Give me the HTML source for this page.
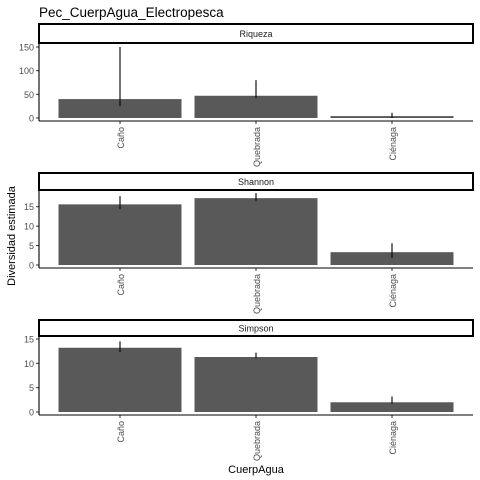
<!DOCTYPE html>
<html><head><meta charset="utf-8"><style>
body{margin:0;background:#fff;}
svg{display:block;font-family:"Liberation Sans",sans-serif;}
</style></head><body>
<svg id="c" width="480" height="480">
<text x="39" y="17" font-size="13.5" fill="#000">Pec_CuerpAgua_Electropesca</text>
<text transform="translate(15,236) rotate(-90)" text-anchor="middle" font-size="11" fill="#000">Diversidad estimada</text>
<text x="256" y="473" text-anchor="middle" font-size="11" fill="#000">CuerpAgua</text>
</svg>
<script>
const categories=["Caño","Quebrada","Ciénaga"];
const panelNames=["Riqueza","Shannon","Simpson"];
const riquezaValues=[40,47,4];
const riquezaLow=[25,42,0];
const riquezaHigh=[150,80,11];
const shannonValues=[15.6,17.2,3.3];
const shannonLow=[14.4,16.5,1.8];
const shannonHigh=[17.7,18.5,5.6];
const simpsonValues=[13.2,11.3,2.0];
const simpsonLow=[12.3,11.0,1.7];
const simpsonHigh=[14.5,12.2,3.2];
const riquezaTicks=[0,50,100,150];
const shannonTicks=[0,5,10,15];
const simpsonTicks=[0,5,10,15];
const NS="http://www.w3.org/2000/svg";
const svg=document.getElementById('c');
function mk(t,a,p){const e=document.createElementNS(NS,t);for(const k in a)e.setAttribute(k,a[k]);(p||svg).appendChild(e);return e;}
const panels=[
 {v:riquezaValues,lo:riquezaLow,hi:riquezaHigh,t:riquezaTicks,stripTop:24,top:43,bottom:121,zero:118,max:150,maxPx:47},
 {v:shannonValues,lo:shannonLow,hi:shannonHigh,t:shannonTicks,stripTop:173,top:190,bottom:268,zero:265,max:15,maxPx:206.7},
 {v:simpsonValues,lo:simpsonLow,hi:simpsonHigh,t:simpsonTicks,stripTop:320,top:336,bottom:415,zero:412,max:15,maxPx:339}
];
const left=39,right=473;
function xc(i){return 120+i*136;}
panels.forEach((p,pi)=>{
 const y=v=>p.zero-(p.zero-p.maxPx)*v/p.max;
 const g=mk('g',{});
 
 
 const s=mk('rect',{x:left,y:p.stripTop,width:right-left,height:p.top-p.stripTop,fill:'#fff',stroke:'#000','stroke-width':2},g);
 
 
 const st=mk('text',{x:(left+right)/2,y:(p.stripTop+p.top)/2+3.5,'text-anchor':'middle','font-size':9,fill:'#1a1a1a'},g);
 st.textContent=panelNames[pi];
 
 
 p.v.forEach((v,i)=>{
  const b=mk('rect',{x:xc(i)-61.5,y:y(v),width:123,height:p.zero-y(v),fill:'#595959'},g);
  
  
  const e=mk('line',{x1:xc(i),x2:xc(i),y1:y(p.lo[i]),y2:y(p.hi[i]),stroke:'#000','stroke-width':1.1},g);
  
  
  mk('line',{x1:xc(i),x2:xc(i),y1:p.bottom,y2:p.bottom+3,stroke:'#333'},g);
  const tl=mk('text',{transform:`translate(${xc(i)+4},${p.bottom+6}) rotate(-90)`,'text-anchor':'end','font-size':9,fill:'#4d4d4d'},g);
  tl.textContent=categories[i];
  
  
 });
 p.t.forEach(t=>{
  mk('line',{x1:left-3,x2:left,y1:y(t),y2:y(t),stroke:'#333'},g);
  const tt=mk('text',{x:left-5,y:y(t)+3.5,'text-anchor':'end','font-size':9,fill:'#4d4d4d'},g);
  tt.textContent=t;
  
  
 });
 mk('line',{x1:left,x2:left,y1:p.top,y2:p.bottom,stroke:'#000','stroke-width':1.1},g);
 mk('line',{x1:left,x2:right,y1:p.bottom,y2:p.bottom,stroke:'#000','stroke-width':1.1},g);
});
</script>
</body></html>
